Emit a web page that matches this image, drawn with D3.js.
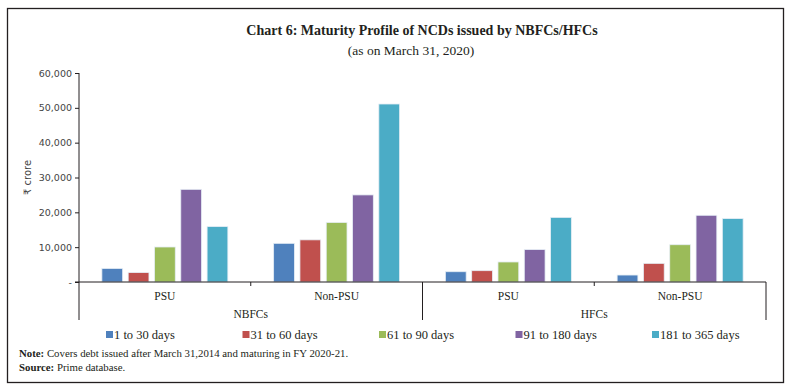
<!DOCTYPE html>
<html>
<head>
<meta charset="utf-8">
<script src="https://cdn.jsdelivr.net/npm/d3@7"></script>
<style>
  body { margin: 0; background: #fff; }
  svg { display: block; }
  .serif { font-family: "Liberation Serif", "DejaVu Serif", serif; fill: #231f20; }
  .axis text { font-family: "DejaVu Sans", Verdana, sans-serif; font-size: 9.5px; fill: #444; }
</style>
</head>
<body>
<svg id="chart"></svg>
<script>
// chart data
var groups = ["NBFCs", "HFCs"];
var categories = ["PSU", "Non-PSU", "PSU", "Non-PSU"];
var categoryGroup = ["NBFCs", "NBFCs", "HFCs", "HFCs"];
var seriesNames = ["1 to 30 days", "31 to 60 days", "61 to 90 days", "91 to 180 days", "181 to 365 days"];
var days1to30    = [3900, 11100, 2950, 2000];
var days31to60   = [2700, 12100, 3250, 5350];
var days61to90   = [10050, 17100, 5750, 10700];
var days91to180  = [26600, 25000, 9300, 19150];
var days181to365 = [15900, 51100, 18550, 18200];
var yTicks = [0, 10000, 20000, 30000, 40000, 50000, 60000];
var colors = ["#4f81bd", "#c0504d", "#9bbb59", "#8064a2", "#4bacc6"];

var series = [days1to30, days31to60, days61to90, days91to180, days181to365];

var width = 790, height = 391;
var svg = d3.select("#chart").attr("width", width).attr("height", height);

// outer frame
svg.append("rect")
    .attr("x", 7.5).attr("y", 8.5)
    .attr("width", 776).attr("height", 374)
    .attr("fill", "none").attr("stroke", "#231f20").attr("stroke-width", 1.3);

// titles
svg.append("text").attr("class", "serif")
    .attr("x", 422).attr("y", 35)
    .attr("text-anchor", "middle")
    .style("font-size", "14px").style("font-weight", "bold")
    .text("Chart 6: Maturity Profile of NCDs issued by NBFCs/HFCs");
svg.append("text").attr("class", "serif")
    .attr("x", 411).attr("y", 55)
    .attr("text-anchor", "middle")
    .style("font-size", "13.5px")
    .text("(as on March 31, 2020)");

var plotLeft = 79, plotRight = 766, plotTop = 73, plotBottom = 282;

var x0 = d3.scaleBand()
    .domain(d3.range(categories.length))
    .range([plotLeft, plotRight])
    .padding(0);

var x1 = d3.scaleBand()
    .domain(d3.range(seriesNames.length))
    .range([0, x0.bandwidth()])
    .paddingInner(0.21)
    .paddingOuter(0.87);

var y = d3.scaleLinear()
    .domain([0, 60000])
    .range([plotBottom, plotTop]);

// y axis
var yAxis = d3.axisLeft(y)
    .tickValues(yTicks)
    .tickSize(4)
    .tickFormat(function(d) { return d === 0 ? "-" : d3.format(",")(d); });

var gy = svg.append("g")
    .attr("class", "axis")
    .attr("transform", "translate(" + plotLeft + ",0)")
    .call(yAxis);
gy.select(".domain").remove();
gy.selectAll("line").attr("stroke", "#231f20");

svg.append("line")
    .attr("x1", plotLeft).attr("x2", plotLeft)
    .attr("y1", plotTop).attr("y2", 320)
    .attr("stroke", "#231f20");

svg.append("text")
    .attr("transform", "translate(31," + ((plotTop + plotBottom) / 2) + ") rotate(-90)")
    .attr("text-anchor", "middle")
    .style("font-family", "DejaVu Sans, Verdana, sans-serif")
    .style("font-size", "10px")
    .style("fill", "#444")
    .text("₹ crore");

// bars
var cat = svg.selectAll(".cat")
    .data(categories)
    .enter().append("g")
    .attr("class", "cat")
    .attr("transform", function(d, i) { return "translate(" + x0(i) + ",0)"; });

cat.selectAll("rect")
    .data(function(d, i) { return series.map(function(s, k) { return { k: k, v: s[i] }; }); })
    .enter().append("rect")
    .attr("x", function(d) { return x1(d.k); })
    .attr("width", x1.bandwidth())
    .attr("y", function(d) { return y(d.v); })
    .attr("height", function(d) { return y(0) - y(d.v); })
    .attr("fill", function(d) { return colors[d.k]; })
    .attr("stroke", "#e6eef5")
    .attr("stroke-width", 0.8);

// x baseline
svg.append("line")
    .attr("x1", plotLeft - 4).attr("x2", plotRight)
    .attr("y1", plotBottom).attr("y2", plotBottom)
    .attr("stroke", "#231f20");

// category ticks
categories.forEach(function(c, i) {
    var xe = x0(i) + x0.bandwidth();
    var isGroupEnd = (i === categories.length - 1) || categoryGroup[i] !== categoryGroup[i + 1];
    svg.append("line")
        .attr("x1", xe).attr("x2", xe)
        .attr("y1", plotBottom).attr("y2", isGroupEnd ? 320 : 286)
        .attr("stroke", "#231f20");
});

// category labels
svg.selectAll(".catlabel")
    .data(categories)
    .enter().append("text")
    .attr("class", "serif")
    .attr("x", function(d, i) { return x0(i) + x0.bandwidth() / 2; })
    .attr("y", 300)
    .attr("text-anchor", "middle")
    .style("font-size", "11.5px")
    .text(function(d) { return d; });

// group labels
groups.forEach(function(g) {
    var idx = d3.range(categories.length).filter(function(i) { return categoryGroup[i] === g; });
    var gx = (x0(idx[0]) + x0(idx[idx.length - 1]) + x0.bandwidth()) / 2;
    svg.append("text").attr("class", "serif")
        .attr("x", gx).attr("y", 318)
        .attr("text-anchor", "middle")
        .style("font-size", "11.5px")
        .text(g);
});

// legend
var legend = svg.selectAll(".legend")
    .data(seriesNames)
    .enter().append("g")
    .attr("class", "legend")
    .attr("transform", function(d, i) { return "translate(" + (106 + i * 136.5) + ",331)"; });
legend.append("rect")
    .attr("width", 7).attr("height", 7)
    .attr("fill", function(d, i) { return colors[i]; });
legend.append("text")
    .attr("class", "serif")
    .attr("x", 8).attr("y", 7.5)
    .style("font-size", "12.5px")
    .text(function(d) { return d; });

// notes
var note = svg.append("text").attr("class", "serif")
    .attr("x", 19).attr("y", 357)
    .style("font-size", "10.8px");
note.append("tspan").style("font-weight", "bold").text("Note:");
note.append("tspan").text(" Covers debt issued after March 31,2014 and maturing in FY 2020-21.");

var src = svg.append("text").attr("class", "serif")
    .attr("x", 19).attr("y", 371)
    .style("font-size", "10.8px");
src.append("tspan").style("font-weight", "bold").text("Source:");
src.append("tspan").text(" Prime database.");
</script>
</body>
</html>
